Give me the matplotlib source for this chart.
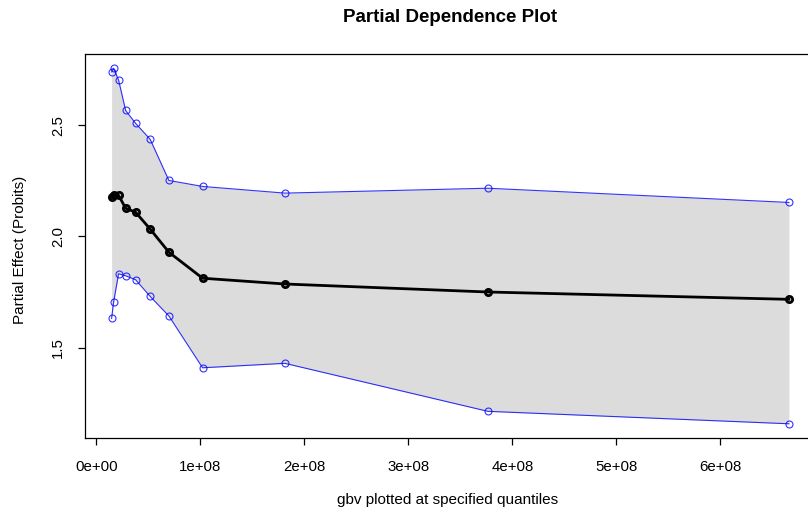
import matplotlib
matplotlib.use("Agg")
import matplotlib.pyplot as plt
import numpy as np

plt.rcParams["font.family"] = ["Liberation Sans", "DejaVu Sans"]

# gbv values at the specified quantiles and the partial effect with its band
gbv = [1.46e7, 1.65e7, 2.13e7, 2.81e7, 3.77e7, 5.17e7, 6.97e7,
       1.021e8, 1.8125e8, 3.764e8, 6.659e8]
effect = [2.178, 2.185, 2.185, 2.127, 2.109, 2.033, 1.929,
          1.812, 1.786, 1.750, 1.717]
upper = [2.740, 2.757, 2.704, 2.567, 2.509, 2.437, 2.252,
         2.225, 2.195, 2.217, 2.153]
lower = [1.631, 1.703, 1.832, 1.823, 1.805, 1.730, 1.642,
         1.409, 1.429, 1.213, 1.157]
xticks = [0, 1e8, 2e8, 3e8, 4e8, 5e8, 6e8]
xtick_labels = ["0e+00", "1e+08", "2e+08", "3e+08", "4e+08", "5e+08", "6e+08"]
yticks = [1.5, 2.0, 2.5]

W, H = 808, 518
fig = plt.figure(figsize=(W / 100, H / 100), dpi=100)
left, right, top, bottom = 84.5, 816, 54, 438
ax = fig.add_axes([left / W, 1 - bottom / H, (right - left) / W, (bottom - top) / H])

# R-style 4% padding on both axes
xr = max(gbv) - min(gbv)
ax.set_xlim(min(gbv) - 0.04 * xr, max(gbv) + 0.04 * xr)
ymin, ymax = min(lower), max(upper)
yr = ymax - ymin
ax.set_ylim(ymin - 0.04 * yr, ymax + 0.04 * yr)

ax.fill_between(gbv, lower, upper, color="#DCDCDC", linewidth=0)
ax.plot(gbv, upper, color="blue", lw=0.8, marker="o", ms=5,
        mfc="none", mec="blue", mew=0.8, alpha=0.8)
ax.plot(gbv, lower, color="blue", lw=0.8, marker="o", ms=5,
        mfc="none", mec="blue", mew=0.8, alpha=0.8)
ax.plot(gbv, effect, color="black", lw=2, marker="o", ms=4.5,
        mfc="none", mec="black", mew=2)

ax.set_xticks(xticks)
ax.set_xticklabels(xtick_labels)
ax.set_yticks(yticks)
ax.set_yticklabels([f"{v:.1f}" for v in yticks], rotation=90, va="center")
ax.tick_params(direction="out", length=5, width=0.9, labelsize=10.8,
               color="black")
ax.tick_params(axis="x", pad=11)
ax.tick_params(axis="y", pad=9)
for s in ax.spines.values():
    s.set_linewidth(0.9)
    s.set_color("black")

fig.text(450 / W, 1 - 17 / H, "Partial Dependence Plot", ha="center",
         va="center", fontsize=13.5, fontweight="bold")
fig.text(448 / W, 1 - 500 / H, "gbv plotted at specified quantiles",
         ha="center", va="center", fontsize=11)
fig.text(20 / W, 1 - 250 / H, "Partial Effect (Probits)", ha="center",
         va="center", rotation=90, fontsize=11)

fig.savefig("out.png", dpi=100)
